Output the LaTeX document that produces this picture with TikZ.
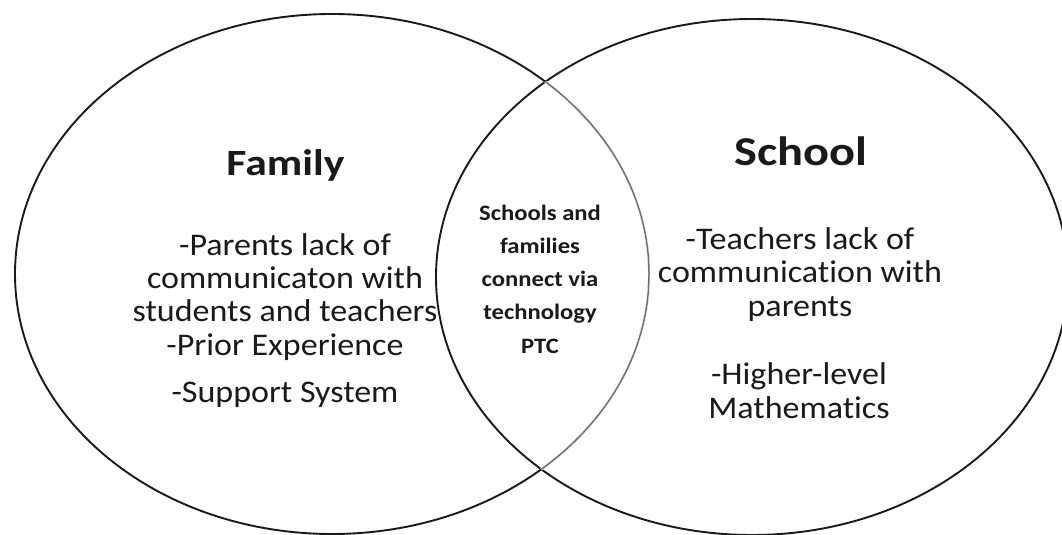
\documentclass[tikz,border=0pt]{standalone}
\usepackage{fontspec}
\setmainfont{Carlito}
\newfontfamily\bodyfont[FakeStretch=1.08,Ligatures=NoCommon]{Carlito}
\newfontfamily\titlefont[FakeStretch=1.18,Ligatures=NoCommon]{Carlito}
\newfontfamily\midfont[FakeStretch=1.12,Ligatures=NoCommon]{Carlito}
\definecolor{ink}{HTML}{1A1A1A}
\definecolor{innerink}{HTML}{707070}
\begin{document}
\begin{tikzpicture}[x=1pt,y=-1pt,
  ring/.style={draw=ink,line width=1.9pt},
  innerring/.style={draw=innerink,line width=1.5pt},
  body/.style={font=\bodyfont\fontsize{31.5}{33.3}\selectfont,align=center,anchor=base,inner sep=0pt,text=ink},
  mid/.style={font=\midfont\bfseries\fontsize{22}{33.2}\selectfont,align=center,anchor=base,inner sep=0pt,text=ink},
  title/.style={font=\titlefont\bfseries,anchor=base,inner sep=0pt,text=ink}]
\useasboundingbox[fill=white] (0,0) rectangle (1062,535);
% circles
\draw[ring] (332,274) ellipse [x radius=317, y radius=260];
\draw[ring] (752,277) ellipse [x radius=316, y radius=258];
\begin{scope}
  \clip (752,277) ellipse [x radius=316, y radius=258];
  \draw[draw=white,line width=2.6pt] (332,274) ellipse [x radius=317, y radius=260];
  \draw[innerring] (332,274) ellipse [x radius=317, y radius=260];
\end{scope}
% titles
\node[title,font=\titlefont\bfseries\fontsize{37}{40}\selectfont] (family) at (285.5,175) {Family};
\node[title,font=\titlefont\bfseries\fontsize{41}{44}\selectfont] (school) at (801,165) {School};
% family text (anchor base = last line baseline)
\node[body] (fam1) at (285,355) {-Parents lack of\\communicaton with\\students and teachers\\-Prior Experience};
\node[body] (fam2) at (285,402) {-Support System};
% school text
\node[body] (sch1) at (800,316) {-Teachers lack of\\communication with\\parents};
\node[body] (sch2) at (799,418) {-Higher-level\\Mathematics};
% overlap text
\node[mid] (both) at (540,353) {Schools and\\families\\connect via\\technology\\PTC};
\end{tikzpicture}
\end{document}
